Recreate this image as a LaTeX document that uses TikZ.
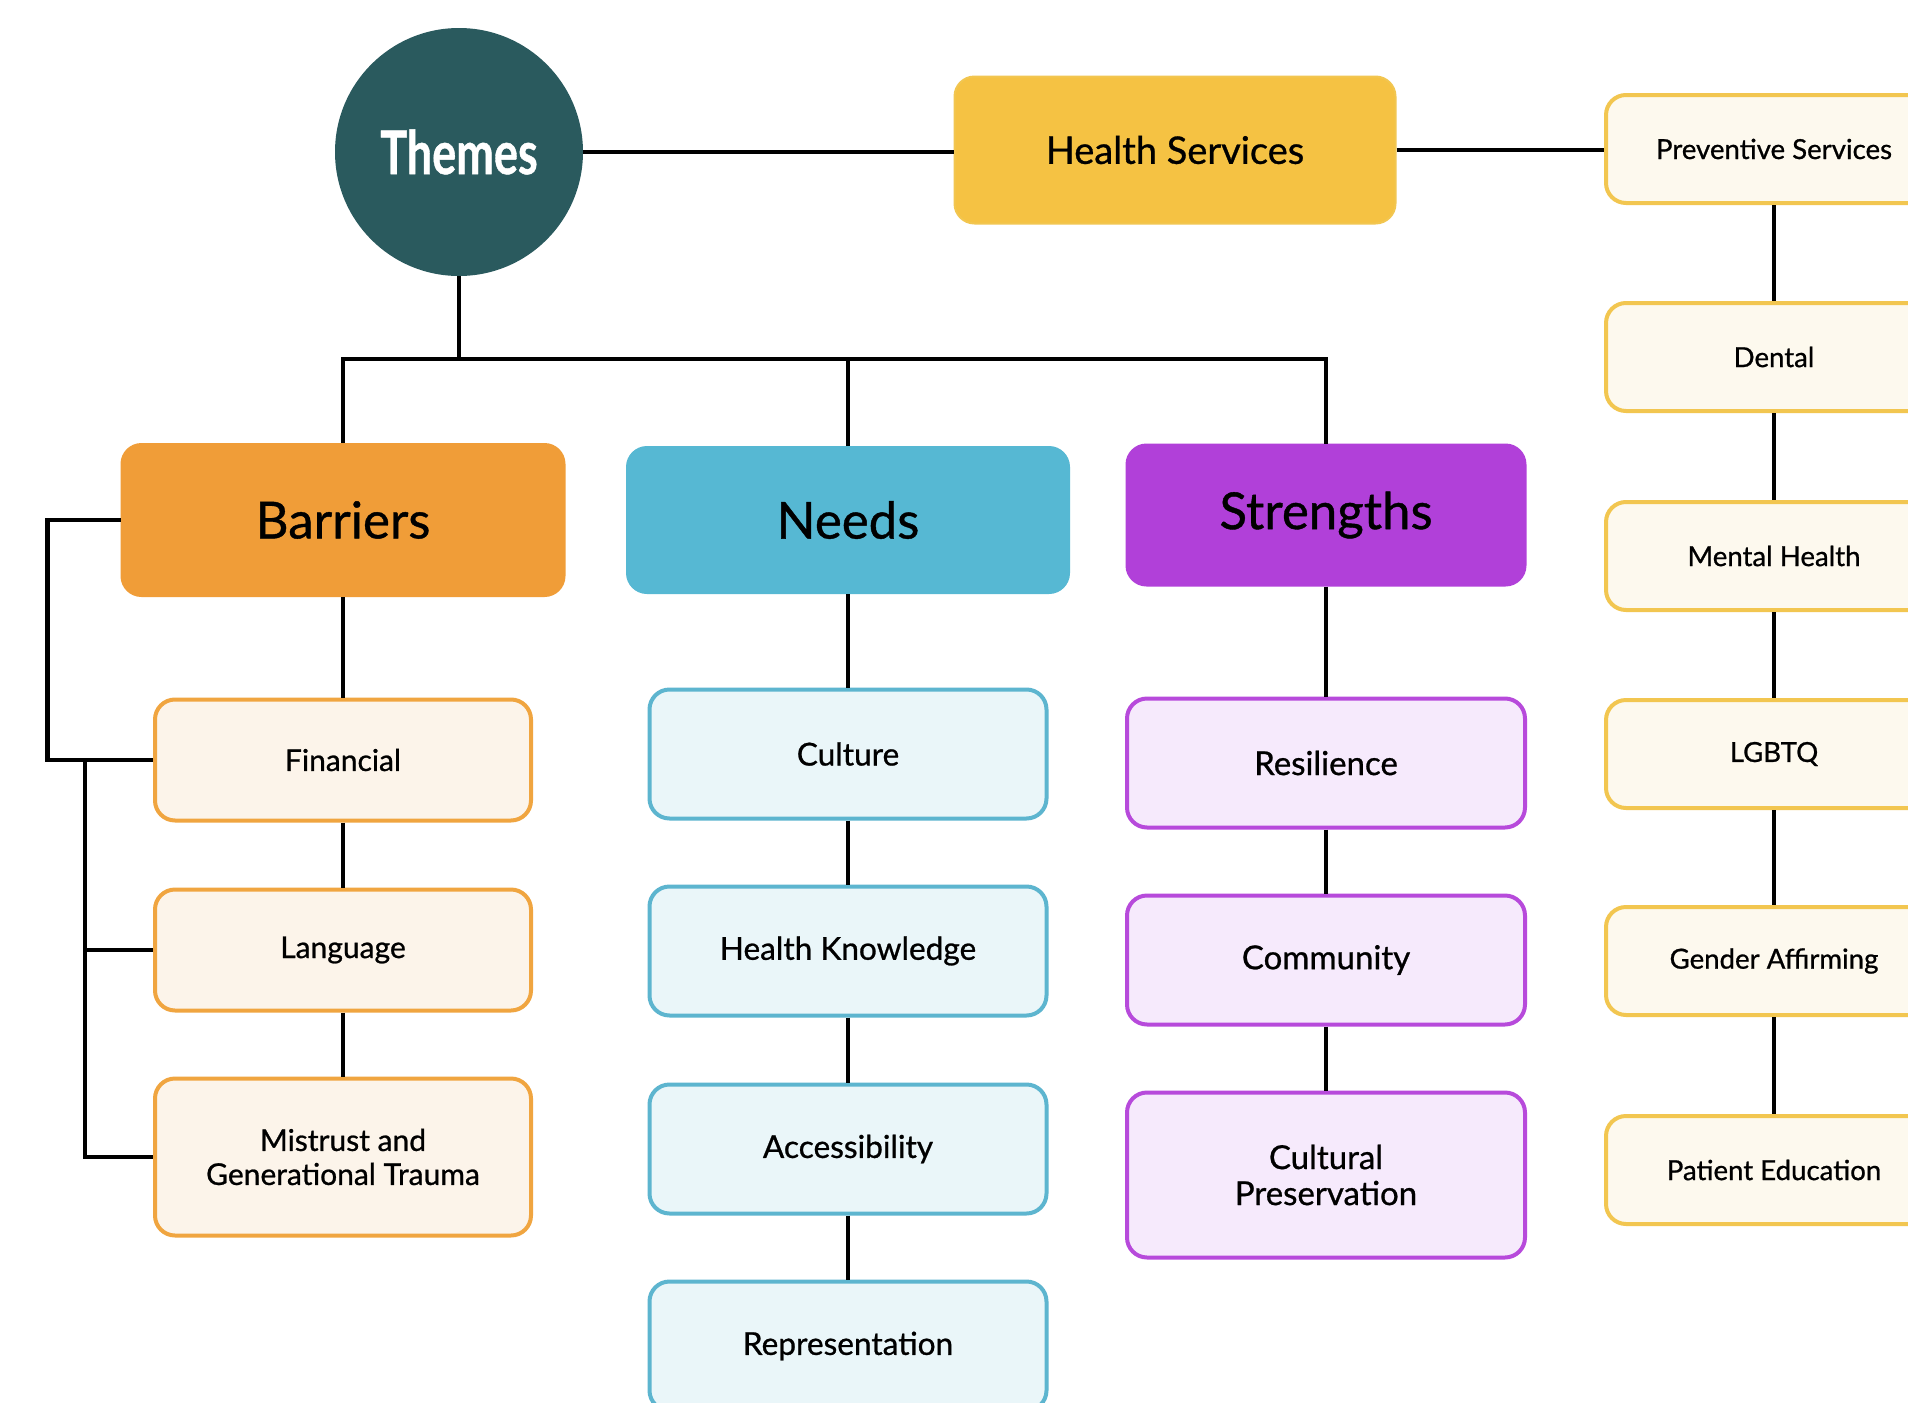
\documentclass[tikz,border=0pt]{standalone}
\usepackage{fontspec}
\setmainfont{Lato}[FakeBold=0.8]
\usepackage{graphicx}
\usepackage{tikz}
\usetikzlibrary{positioning,shapes.misc}
\definecolor{themec}{HTML}{2A5A5E}
\definecolor{hsfill}{HTML}{F5C243}
\definecolor{hsline}{HTML}{F2C650}
\definecolor{hslite}{HTML}{FDF9EE}
\definecolor{barc}{HTML}{F09D38}
\definecolor{barlite}{HTML}{FCF4EA}
\definecolor{barline}{HTML}{F0A540}
\definecolor{needc}{HTML}{56B8D3}
\definecolor{needlite}{HTML}{EAF6F9}
\definecolor{needline}{HTML}{5DB5CF}
\definecolor{strc}{HTML}{B140D9}
\definecolor{strlite}{HTML}{F6EAFC}
\definecolor{strline}{HTML}{B74ADB}

\begin{document}
\begin{tikzpicture}[x=0.5pt,y=-0.5pt,
  conn/.style={line width=2.2pt,black},
  box/.style={rounded corners=10pt,inner sep=0pt,align=center,line width=2pt,text=black},
  head/.style={box,line width=1pt,font=\fontsize{25.5}{28}\selectfont},
  kid/.style={box,font=\fontsize{15}{17}\selectfont,minimum width=188pt,minimum height=60.5pt},
  barkid/.style={kid,draw=barline,fill=barlite},
  needkid/.style={kid,draw=needline,fill=needlite,minimum width=198.5pt,minimum height=64.5pt,font=\fontsize{15.8}{19}\selectfont},
  strkid/.style={kid,draw=strline,fill=strlite,minimum width=199pt,minimum height=64.5pt,font=\fontsize{16.5}{18}\selectfont},
  hskid/.style={kid,draw=hsline,fill=hslite,minimum width=168pt,minimum height=54pt,font=\fontsize{13.8}{16}\selectfont}]
  \useasboundingbox (0,0) rectangle (1908,1403);
  \clip (0,0) rectangle (1908,1403);
  \fill[white] (0,0) rectangle (1908,1403);

  \node[circle,fill=themec,minimum size=124pt,inner sep=0pt,text=white] (themes) at (459,152) {\scalebox{0.75}[1]{\fontsize{30}{32}\selectfont\bfseries Themes}};
  \node[box,line width=1pt,draw=hsline,fill=hsfill,minimum width=220.5pt,minimum height=73.5pt,font=\fontsize{19}{22}\selectfont] (health) at (1175,150) {Health Services};

  \node[head,draw=barc,fill=barc,minimum width=221.5pt,minimum height=76pt] (barriers) at (343,520) {Barriers};
  \node[head,draw=needc,fill=needc,minimum width=221pt,minimum height=73pt] (needs) at (848,520) {Needs};
  \node[head,draw=strc,fill=strc,minimum width=199.5pt,minimum height=70.5pt] (strengths) at (1326,515) {Strengths};

  \node[barkid] (financial) at (343,760) {Financial};
  \node[barkid] (language) at (343,950) {Language};
  \node[barkid,minimum height=78.5pt] (mistrust) at (343,1157) {Mistrust and\\Generational Trauma};

  \node[needkid] (culture) at (848,754) {Culture};
  \node[needkid] (knowledge) at (848,951) {Health Knowledge};
  \node[needkid] (access) at (848,1149) {Accessibility};
  \node[needkid] (repr) at (848,1346) {Representation};

  \node[strkid] (resilience) at (1326,763) {Resilience};
  \node[strkid] (community) at (1326,960) {Community};
  \node[strkid,minimum height=82.5pt] (preserve) at (1326,1175) {Cultural\\Preservation};

  \node[hskid] (prev) at (1774,149) {Preventive Services};
  \node[hskid] (dental) at (1774,357) {Dental};
  \node[hskid] (mental) at (1774,556) {Mental Health};
  \node[hskid] (lgbtq) at (1774,754) {LGBTQ};
  \node[hskid] (gender) at (1774,961) {Gender Affirming};
  \node[hskid] (patient) at (1774,1170) {Patient Education};

  \coordinate (hub) at (459,359);
  \coordinate (lbus) at (85,759);

  \draw[conn] (themes.east) -- (themes.east -| health.west);
  \draw[conn] (health.east) -- (health.east -| prev.west);
  \draw[conn] (themes.south) -- (hub);
  \draw[conn] (barriers.north) |- (hub) -| (strengths.north);
  \draw[conn] (needs.north) -- (needs.north |- hub);

  \draw[conn] (barriers.south) -- (financial.north);
  \draw[conn] (financial.south) -- (language.north);
  \draw[conn] (language.south) -- (mistrust.north);
  \draw[conn] (barriers.west) -- ++(-73,0) |- (financial.west);
  \draw[conn] (lbus) |- (mistrust.west);
  \draw[conn] (lbus |- language.west) -- (language.west);

  \draw[conn] (needs.south) -- (culture.north);
  \draw[conn] (culture.south) -- (knowledge.north);
  \draw[conn] (knowledge.south) -- (access.north);
  \draw[conn] (access.south) -- (repr.north);

  \draw[conn] (strengths.south) -- (resilience.north);
  \draw[conn] (resilience.south) -- (community.north);
  \draw[conn] (community.south) -- (preserve.north);

  \draw[conn] (prev.south) -- (dental.north);
  \draw[conn] (dental.south) -- (mental.north);
  \draw[conn] (mental.south) -- (lgbtq.north);
  \draw[conn] (lgbtq.south) -- (gender.north);
  \draw[conn] (gender.south) -- (patient.north);
\end{tikzpicture}
\end{document}
